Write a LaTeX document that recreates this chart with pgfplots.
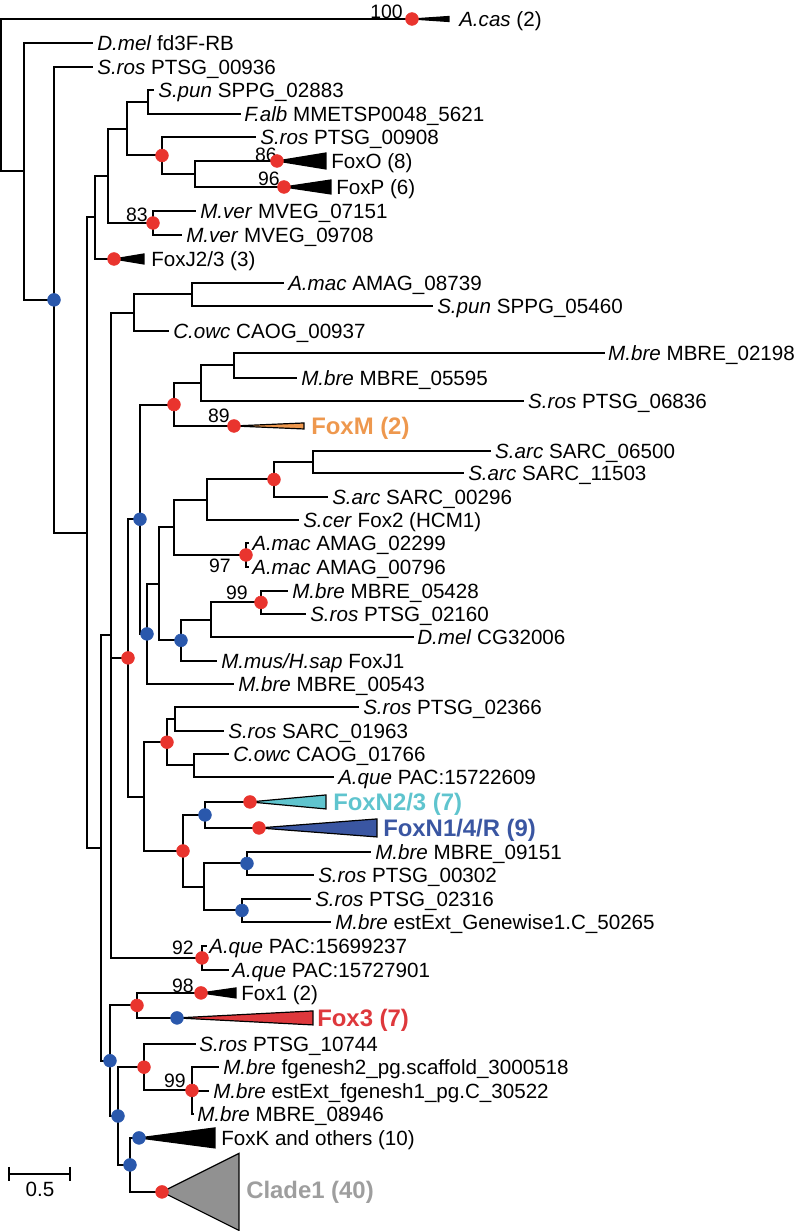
\documentclass[border=0pt]{standalone}
\usepackage{pgfplots}
\pgfplotsset{compat=1.18}
\usepackage{fontspec}
\setmainfont{Liberation Sans}
\definecolor{dotred}{RGB}{233,52,46}
\definecolor{dotblue}{RGB}{42,88,172}
\definecolor{foxm}{RGB}{238,152,78}
\definecolor{foxnb}{RGB}{95,196,206}
\definecolor{foxna}{RGB}{58,86,162}
\definecolor{foxthree}{RGB}{222,56,60}
\definecolor{cladefill}{RGB}{145,145,145}
\definecolor{cladetext}{RGB}{158,158,158}
\newcommand{\lfont}{\fontsize{14.65}{16}\selectfont}
\newcommand{\nfont}{\fontsize{13.8}{15}\selectfont}
\newcommand{\bfont}{\fontsize{17}{19}\selectfont\bfseries}
\newcommand{\br}[1]{\addplot[branch] coordinates {#1};}
\newcommand{\tip}[3]{\node[anchor=base west,inner sep=0pt,yshift=-1.85mm,font=\lfont] at (axis cs:#1,#2) {#3};}
\newcommand{\btip}[4]{\node[anchor=base west,inner sep=0pt,yshift=-2.15mm,font=\bfont,text=#4] at (axis cs:#1,#2) {#3};}
\newcommand{\bs}[3]{\node[anchor=base east,inner sep=0pt,font=\nfont] at (axis cs:#1,#2) {#3};}
\newcommand{\tri}[5]{\addplot[draw=black,fill=#5,line width=0.3mm,line join=miter] coordinates {(#1,#2) (#3,#2-#4) (#3,#2+#4) (#1,#2)};}
\begin{document}
\begin{tikzpicture}
\begin{axis}[
  x=0.25mm, y=0.25mm,
  xmin=0, xmax=796, ymin=0, ymax=1231,
  y dir=reverse, hide axis, clip=false,
  branch/.style={black, line width=0.5mm, line join=miter, mark=none},
]
\addplot[draw=none, mark=none] coordinates {(0,0) (796,1231)};
% branches
\br{(411,19) (0,19) (0,171.45) (23,171.45)}
\br{(92,43) (23,43) (23,299.9) (53,299.9)}
\br{(92,67) (53,67) (53,532.75) (86,532.75)}
\br{(94,217.4) (86,217.4) (86,848.1) (100,848.1)}
\br{(107,175.9) (94,175.9) (94,259) (113,259)}
\br{(126,128.75) (107,128.75) (107,223) (152,223)}
\br{(147,102) (126,102) (126,155.5) (161,155.5)}
\br{(153,90) (147,90) (147,114) (240,114)}
\br{(255,137) (161,137) (161,174) (194,174)}
\br{(276,161) (194,161) (194,187) (283,187)}
\br{(195,211) (152,211) (152,235) (181,235)}
\br{(110,635.4) (100,635.4) (100,1060.8) (109,1060.8)}
\br{(133,312.75) (110,312.75) (110,958) (201,958)}
\br{(110,657.95) (127,657.95)}
\br{(191,294.5) (133,294.5) (133,331) (168,331)}
\br{(283,283) (191,283) (191,306) (432,306)}
\br{(139,519.3) (127,519.3) (127,796.6) (143,796.6)}
\br{(173,404.6) (139,404.6) (139,633.95) (146,633.95)}
\br{(200,383.25) (173,383.25) (173,426) (233,426)}
\br{(233,365.5) (200,365.5) (200,401) (523,401)}
\br{(604,353) (233,353) (233,378) (296,378)}
\br{(158,583.9) (146,583.9) (146,684) (233,684)}
\br{(173,527.4) (158,527.4) (158,640.4) (180,640.4)}
\br{(206,499.75) (173,499.75) (173,555) (245,555)}
\br{(273,479.5) (206,479.5) (206,520) (298,520)}
\br{(312,462) (273,462) (273,497) (327,497)}
\br{(490,451) (312,451) (312,473) (463,473)}
\br{(248,543) (245,543) (245,567) (248,567)}
\br{(210,619.75) (180,619.75) (180,661) (216,661)}
\br{(260,602.5) (210,602.5) (210,637) (413,637)}
\br{(287,591) (260,591) (260,614) (305,614)}
\br{(166,742.25) (143,742.25) (143,851) (182,851)}
\br{(174,719) (166,719) (166,765.5) (193,765.5)}
\br{(358,707) (174,707) (174,731) (223,731)}
\br{(228,754) (193,754) (193,777) (333,777)}
\br{(204,815) (182,815) (182,887) (203,887)}
\br{(249,802) (204,802) (204,828) (258,828)}
\br{(246,863.5) (203,863.5) (203,910.5) (241,910.5)}
\br{(370,852) (246,852) (246,875) (313,875)}
\br{(310,899) (241,899) (241,922) (330,922)}
\br{(206,946) (201,946) (201,970) (228,970)}
\br{(136,1005.5) (109,1005.5) (109,1116.1) (117,1116.1)}
\br{(200,993) (136,993) (136,1018) (176,1018)}
\br{(143,1067.25) (117,1067.25) (117,1165) (129,1165)}
\br{(195,1044) (143,1044) (143,1090.5) (191,1090.5)}
\br{(218,1067) (191,1067) (191,1114) (193,1114)}
\br{(191,1091) (208,1091)}
\br{(138,1138) (129,1138) (129,1192) (161,1192)}
% scale bar
\br{(8,1167) (8,1181)}
\br{(8,1174) (69,1174)}
\br{(69,1167) (69,1181)}
% collapsed clades
\tri{411}{19}{448}{2.5}{black}
\tri{276}{161}{325}{8}{black}
\tri{283}{187}{330}{7}{black}
\tri{113}{259}{143}{5}{black}
\tri{233}{426}{303}{3}{foxm}
\tri{249}{802}{325}{7}{foxnb}
\tri{258}{828}{376}{9}{foxna}
\tri{200}{993}{235}{5}{black}
\tri{176}{1018}{312}{7}{foxthree}
\tri{138}{1138}{214}{10}{black}
\tri{161}{1192}{238}{38.5}{cladefill}
% support dots
\addplot[only marks, mark=*, mark size=1.6mm, mark options={draw=dotred, fill=dotred}] coordinates {
(411,19) (161,155.5) (276,161) (283,187) (152,223) (113,259) (173,404.6) (233,426)
(273,479.5) (245,555) (260,602.5) (127,657.95) (166,742.25) (249,802) (258,828)
(182,851) (201,958) (136,1005.5) (200,993) (143,1067.25) (191,1090.5) (161,1192)};
\addplot[only marks, mark=*, mark size=1.6mm, mark options={draw=dotblue, fill=dotblue}] coordinates {
(53,299.9) (139,519.3) (146,633.95) (180,640.4) (204,815) (246,863.5) (241,910.5)
(109,1060.8) (176,1018) (117,1116.1) (138,1138) (129,1165)};
% tip labels
\tip{458}{19}{\textit{A.cas} (2)}
\tip{96}{43}{\textit{D.mel} fd3F-RB}
\tip{96}{67}{\textit{S.ros} PTSG\_00936}
\tip{157}{90}{\textit{S.pun} SPPG\_02883}
\tip{243}{114}{\textit{F.alb} MMETSP0048\_5621}
\tip{259}{137}{\textit{S.ros} PTSG\_00908}
\tip{330}{161}{FoxO (8)}
\tip{335}{187}{FoxP (6)}
\tip{199}{211}{\textit{M.ver} MVEG\_07151}
\tip{185}{235}{\textit{M.ver} MVEG\_09708}
\tip{150}{259}{FoxJ2/3 (3)}
\tip{287}{283}{\textit{A.mac} AMAG\_08739}
\tip{436}{306}{\textit{S.pun} SPPG\_05460}
\tip{172}{331}{\textit{C.owc} CAOG\_00937}
\tip{607}{353}{\textit{M.bre} MBRE\_02198}
\tip{300}{378}{\textit{M.bre} MBRE\_05595}
\tip{527}{401}{\textit{S.ros} PTSG\_06836}
\btip{310}{426}{FoxM (2)}{foxm}
\tip{494}{451}{\textit{S.arc} SARC\_06500}
\tip{467}{473}{\textit{S.arc} SARC\_11503}
\tip{331}{497}{\textit{S.arc} SARC\_00296}
\tip{302}{520}{\textit{S.cer} Fox2 (HCM1)}
\tip{251}{543}{\textit{A.mac} AMAG\_02299}
\tip{251}{567}{\textit{A.mac} AMAG\_00796}
\tip{291}{591}{\textit{M.bre} MBRE\_05428}
\tip{309}{614}{\textit{S.ros} PTSG\_02160}
\tip{416}{637}{\textit{D.mel} CG32006}
\tip{220}{661}{\textit{M.mus/H.sap} FoxJ1}
\tip{237}{684}{\textit{M.bre} MBRE\_00543}
\tip{362}{707}{\textit{S.ros} PTSG\_02366}
\tip{227}{731}{\textit{S.ros} SARC\_01963}
\tip{232}{754}{\textit{C.owc} CAOG\_01766}
\tip{337}{777}{\textit{A.que} PAC:15722609}
\btip{332}{802}{FoxN2/3 (7)}{foxnb}
\btip{382}{828}{FoxN1/4/R (9)}{foxna}
\tip{374}{852}{\textit{M.bre} MBRE\_09151}
\tip{317}{875}{\textit{S.ros} PTSG\_00302}
\tip{314}{899}{\textit{S.ros} PTSG\_02316}
\tip{334}{922}{\textit{M.bre} estExt\_Genewise1.C\_50265}
\tip{208}{946}{\textit{A.que} PAC:15699237}
\tip{231}{970}{\textit{A.que} PAC:15727901}
\tip{240}{993}{Fox1 (2)}
\btip{316}{1018}{Fox3 (7)}{foxthree}
\tip{198}{1044}{\textit{S.ros} PTSG\_10744}
\tip{222}{1067}{\textit{M.bre} fgenesh2\_pg.scaffold\_3000518}
\tip{212}{1091}{\textit{M.bre} estExt\_fgenesh1\_pg.C\_30522}
\tip{196}{1114}{\textit{M.bre} MBRE\_08946}
\tip{220}{1138}{FoxK and others (10)}
\btip{245}{1190}{Clade1 (40)}{cladetext}
% support values
\bs{402}{19}{100}
\bs{276}{162}{86}
\bs{279}{186}{96}
\bs{147}{222}{83}
\bs{229}{423}{89}
\bs{230}{573}{97}
\bs{247}{600}{99}
\bs{193}{955}{92}
\bs{193}{993}{98}
\bs{185}{1088}{99}
\node[anchor=base,inner sep=0pt,font=\lfont] at (axis cs:39,1197) {0.5};
\end{axis}
\end{tikzpicture}
\end{document}
